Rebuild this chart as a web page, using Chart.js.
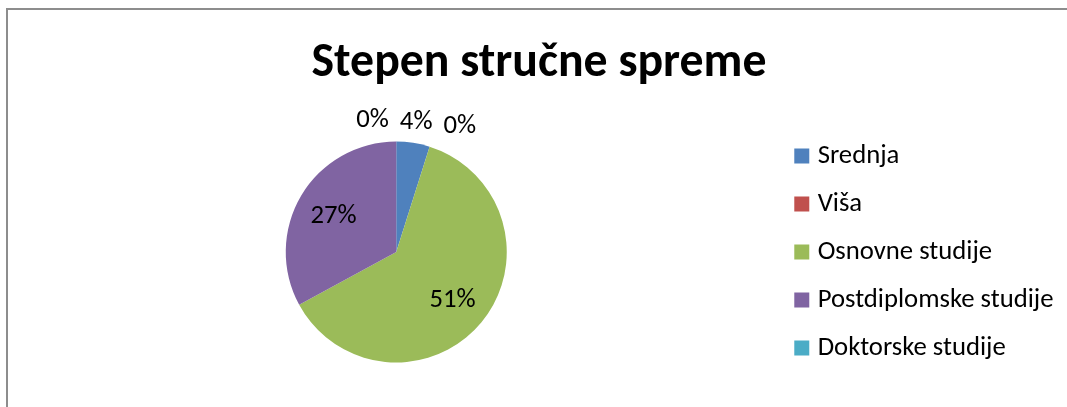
<!DOCTYPE html>
<html>
<head>
<meta charset="utf-8">
<script src="https://cdn.jsdelivr.net/npm/chart.js@4.4.0/dist/chart.umd.min.js"></script>
<style>
    html, body { margin: 0; padding: 0; background: #fff; }
    #okvir { position: fixed; left: 6px; top: 8px; right: -20px; bottom: -20px; border-left: 2px solid #8d8d8d; border-top: 2px solid #8d8d8d; }
    #chart-sprema { position: fixed; left: 0; top: 0; display: block; }
</style>
</head>
<body>
<div id="okvir"></div>
<canvas id="chart-sprema" width="1067" height="407"></canvas>
<script>
const naslov = 'Stepen stručne spreme';
const kategorije = ['Srednja', 'Viša', 'Osnovne studije', 'Postdiplomske studije', 'Doktorske studije'];
const procenti = [4, 0, 51, 27, 0];
const boje = ['#4F81BD', '#C0504D', '#9BBB59', '#8064A2', '#4BACC6'];

const family = 'Carlito, Lato, sans-serif';

// font size that gives the text the width it has in the picture
function fitSize(text, weight, targetWidth) {
    const ctx = document.createElement('canvas').getContext('2d');
    ctx.font = `${weight} 100px ${family}`;
    return 100 * targetWidth / ctx.measureText(text).width;
}
const titleSize = fitSize(naslov, 'bold', 455);
const labelSize = fitSize('Postdiplomske studije', 'normal', 236);

const pieLabels = {
    id: 'pieLabels',
    afterDatasetsDraw(chart) {
        const meta = chart.getDatasetMeta(0);
        const ctx = chart.ctx;
        ctx.save();
        ctx.font = `${labelSize}px ${family}`;
        ctx.fillStyle = '#000';
        ctx.textAlign = 'center';
        ctx.textBaseline = 'middle';
        const outside = [];
        meta.data.forEach((arc, i) => {
            const {x, y, startAngle, endAngle, outerRadius} = arc.getProps(['x', 'y', 'startAngle', 'endAngle', 'outerRadius'], true);
            const mid = (startAngle + endAngle) / 2;
            const text = `${procenti[i]}%`;
            const share = (endAngle - startAngle) / (2 * Math.PI);
            if (share > 0.1) {
                ctx.fillText(text, x + Math.cos(mid) * outerRadius * 0.66, y + 2 + Math.sin(mid) * outerRadius * 0.66);
            } else {
                outside.push({
                    text,
                    x: x + Math.cos(mid) * outerRadius * 1.19,
                    y: y + Math.sin(mid) * outerRadius * 1.19,
                    w: ctx.measureText(text).width
                });
            }
        });
        // push small-slice labels apart so they don't overlap
        outside.sort((a, b) => a.x - b.x);
        for (let n = 0; n < 100; n++) {
            for (let i = 1; i < outside.length; i++) {
                const need = (outside[i - 1].w + outside[i].w) / 2 + 11;
                const overlap = need - (outside[i].x - outside[i - 1].x);
                if (overlap > 0) {
                    outside[i - 1].x -= overlap / 2;
                    outside[i].x += overlap / 2;
                }
            }
        }
        outside.forEach(l => ctx.fillText(l.text, l.x, l.y));
        ctx.restore();
    }
};

const titlePadTop = 64 - 0.6 * titleSize;

new Chart(document.getElementById('chart-sprema'), {
    type: 'pie',
    data: {
        labels: kategorije,
        datasets: [{
            data: procenti,
            backgroundColor: boje,
            borderWidth: 0,
            radius: 110.5
        }]
    },
    options: {
        responsive: false,
        animation: false,
        events: [],
        layout: {
            padding: { left: 14.5, right: 3.5, top: 0, bottom: 13 }
        },
        plugins: {
            title: {
                display: true,
                text: naslov,
                color: '#000',
                font: { family, size: titleSize, weight: 'bold', lineHeight: 1.2 },
                padding: { top: titlePadTop, bottom: 110 - titlePadTop - 1.2 * titleSize }
            },
            legend: {
                position: 'right',
                fullSize: false,
                labels: {
                    usePointStyle: true,
                    pointStyle: 'rect',
                    boxWidth: 5,
                    boxHeight: 15,
                    padding: 48 - labelSize,
                    color: '#000',
                    font: { family, size: labelSize }
                }
            },
            tooltip: { enabled: false }
        }
    },
    plugins: [pieLabels]
});
</script>
</body>
</html>
